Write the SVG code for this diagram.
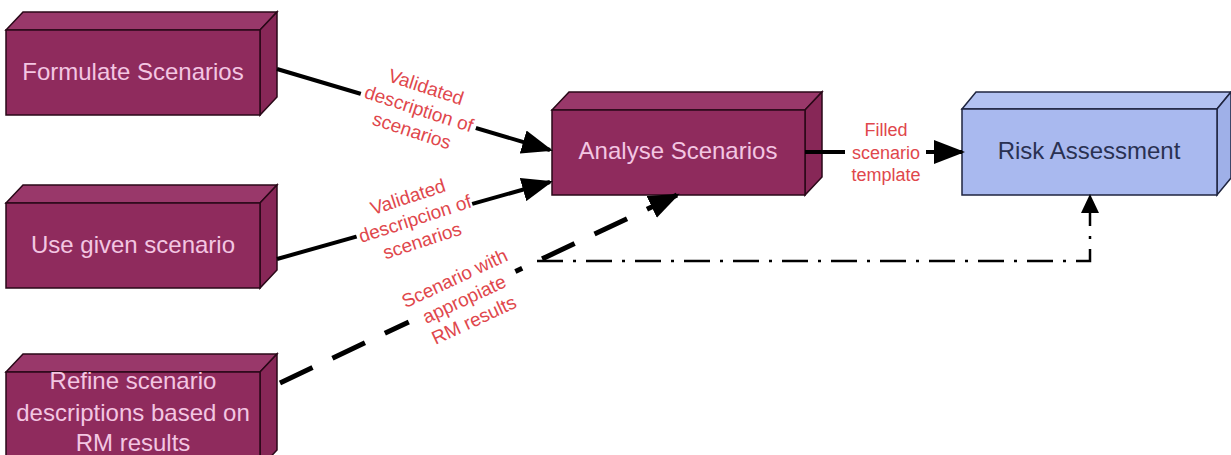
<svg xmlns="http://www.w3.org/2000/svg" width="1231" height="455" viewBox="0 0 1231 455">
<style>
.front{fill:#8f2b5d;stroke:#2a0818;stroke-width:1.5}
.top{fill:#99386a;stroke:#2a0818;stroke-width:1.5}
.side{fill:#872757;stroke:#2a0818;stroke-width:1.5}
.bfront{fill:#a9b9ef;stroke:#1f2540;stroke-width:1.5}
.btop{fill:#b3c2f2;stroke:#1f2540;stroke-width:1.5}
.bside{fill:#9fb0e8;stroke:#1f2540;stroke-width:1.5}
.nt{font-family:"Liberation Sans",Arial,sans-serif;font-size:24px;fill:#f3c6e2;text-anchor:middle}
.nb{font-family:"Liberation Sans",Arial,sans-serif;font-size:24px;fill:#2a3152;text-anchor:middle}
.lt{font-family:"Liberation Sans",Arial,sans-serif;font-size:19px;fill:#e0474c;text-anchor:middle}
.lf{font-family:"Liberation Sans",Arial,sans-serif;font-size:18px;fill:#e0474c;text-anchor:middle}
.solid{fill:none;stroke:#000;stroke-width:4}
.dash{fill:none;stroke:#000;stroke-width:5;stroke-dasharray:36 22}
.dashdot{fill:none;stroke:#000;stroke-width:2.5;stroke-dasharray:26 10 3 10}
.bg{fill:#fff}
</style>
<defs>
<marker id="ah" markerUnits="userSpaceOnUse" markerWidth="32" markerHeight="24" refX="28" refY="12" orient="auto">
<path d="M0,0 L31,12 L0,24 z" fill="#000"/>
</marker>
<marker id="ahs" markerUnits="userSpaceOnUse" markerWidth="20" markerHeight="18" refX="17" refY="9" orient="auto">
<path d="M0,0 L19,9 L0,18 z" fill="#000"/>
</marker>
</defs>

<g id="node-formulate">
<polygon class="top" points="6,30 23,12 277,12 260,30"/>
<polygon class="side" points="260,30 277,12 277,97 260,115"/>
<rect class="front" x="6" y="30" width="254" height="85"/>
<text class="nt" x="133" y="80">Formulate Scenarios</text>
</g>

<g id="node-use">
<polygon class="top" points="6,203 23,185 277,185 260,203"/>
<polygon class="side" points="260,203 277,185 277,270 260,288"/>
<rect class="front" x="6" y="203" width="254" height="85"/>
<text class="nt" x="133" y="253">Use given scenario</text>
</g>

<g id="node-refine">
<polygon class="top" points="6,372 23,354 277,354 260,372"/>
<polygon class="side" points="260,372 277,354 277,450 260,468"/>
<rect class="front" x="6" y="372" width="254" height="96"/>
<text class="nt" x="133" y="389">Refine scenario</text>
<text class="nt" x="133" y="421">descriptions based on</text>
<text class="nt" x="133" y="451">RM results</text>
</g>

<g id="node-analyse">
<polygon class="top" points="552,110 569,92 822,92 805,110"/>
<polygon class="side" points="805,110 822,92 822,177 805,195"/>
<rect class="front" x="552" y="110" width="253" height="85"/>
<text class="nt" x="678" y="159">Analyse Scenarios</text>
</g>

<g id="node-risk">
<polygon class="btop" points="962,109 976,92 1231,92 1217,109"/>
<polygon class="bside" points="1217,109 1231,92 1231,178 1217,195"/>
<rect class="bfront" x="962" y="109" width="255" height="86"/>
<text class="nb" x="1089" y="159">Risk Assessment</text>
</g>

<g id="connectors">
<path class="solid" d="M277,69 L550,150" marker-end="url(#ah)"/>
<path class="solid" d="M277,259 L550,182" marker-end="url(#ah)"/>
<path class="dash" d="M280,383 L677,195" marker-end="url(#ah)"/>
<path class="dashdot" d="M537,261 L1090,261 L1090,196" marker-end="url(#ahs)"/>
<path class="solid" d="M805,152 L962,152" marker-end="url(#ah)"/>
</g>

<g id="labels">
<g transform="translate(417,115) rotate(18)">
<rect class="bg" x="-60" y="-42" width="120" height="74"/>
<text class="lt" x="0" y="-23">Validated</text>
<text class="lt" x="0" y="0">description of</text>
<text class="lt" x="0" y="23">scenarios</text>
</g>
<g transform="translate(417,225) rotate(-18)">
<rect class="bg" x="-61" y="-42" width="120" height="74"/>
<text class="lt" x="0" y="-23">Validated</text>
<text class="lt" x="0" y="0">descripcion of</text>
<text class="lt" x="0" y="23">scenarios</text>
</g>
<g transform="translate(467,305) rotate(-25)">
<rect class="bg" x="-60" y="-42" width="118" height="74"/>
<text class="lt" x="0" y="-23">Scenario with</text>
<text class="lt" x="0" y="0">appropiate</text>
<text class="lt" x="0" y="23">RM results</text>
</g>
<g>
<rect class="bg" x="845" y="120" width="81" height="68"/>
<text class="lf" x="886" y="136">Filled</text>
<text class="lf" x="886" y="159">scenario</text>
<text class="lf" x="886" y="181">template</text>
</g>
</g>
</svg>
